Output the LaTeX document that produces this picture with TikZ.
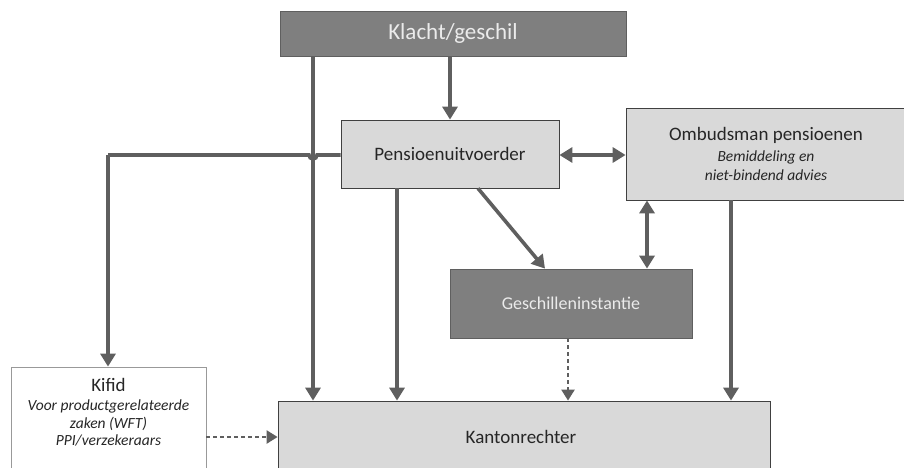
\documentclass[tikz,border=0pt]{standalone}
\usepackage{fontspec}
\setmainfont{Carlito}
\usetikzlibrary{arrows.meta}

\definecolor{darkfill}{HTML}{7F7F7F}
\definecolor{lightfill}{HTML}{D9D9D9}
\definecolor{linegrey}{HTML}{5F5F5F}
\definecolor{edgegrey}{HTML}{404040}

\tikzset{
    darkbox/.style={draw=linegrey, fill=darkfill, text=white!92!black, inner sep=0pt, line width=0.8pt},
    lightbox/.style={draw=edgegrey, fill=lightfill, text=black!85, inner sep=0pt, line width=0.8pt},
    whitebox/.style={draw=black!40, fill=white, inner sep=0pt, line width=0.8pt},
    conn/.style={draw=linegrey, line width=3.6pt, -{Triangle[width=15pt,length=13pt]}},
    dconn/.style={conn, {Triangle[width=15pt,length=13pt]}-{Triangle[width=15pt,length=13pt]}},
    dashconn/.style={draw=linegrey, line width=2.4pt, dash pattern=on 4pt off 3pt, -{Triangle[width=13pt,length=11pt]}}
}

\begin{document}
\begin{tikzpicture}[x=1pt, y=-1pt]
    \useasboundingbox (0,0) rectangle (904,468);
    \clip (0,0) rectangle (904,468);

    % Boxes
    \node[darkbox, minimum width=346pt, minimum height=45pt, font=\fontsize{23}{26}\selectfont]
        (klacht) at (453,33.5) {Klacht/geschil};
    \node[lightbox, minimum width=218pt, minimum height=68pt, font=\fontsize{19}{22}\selectfont]
        (pensioen) at (450,154) {Pensioenuitvoerder};
    \node[lightbox, minimum width=280pt, minimum height=92pt, align=center,
          font=\fontsize{15.5}{19}\selectfont\itshape]
        (ombuds) at (766,154) {{\upshape\fontsize{19}{19}\selectfont Ombudsman pensioenen}\\[2pt]
        Bemiddeling en\\
        niet-bindend advies};
    \node[darkbox, minimum width=242pt, minimum height=69pt, font=\fontsize{18}{22}\selectfont]
        (geschil) at (571,303.5) {Geschilleninstantie};
    \node[lightbox, minimum width=492pt, minimum height=72pt, font=\fontsize{19}{22}\selectfont]
        (kanton) at (524,437) {\hspace*{-6pt}Kantonrechter};
    \node[whitebox, minimum width=195pt, minimum height=115pt]
        (kifid) at (108.5,424.5) {};
    \node[align=center, inner sep=0pt, text=black!85, font=\fontsize{15.5}{17.5}\selectfont\itshape]
        (kifidtxt) at (108.5,412) {{\upshape\fontsize{19}{19}\selectfont Kifid}\\[2pt]
        Voor productgerelateerde\\
        zaken (WFT)\\
        PPI/verzekeraars};

    % Helper coordinates
    \coordinate (lineA) at (313,0);
    \coordinate (lineB) at (397,0);
    \coordinate (lineC) at (647,0);
    \coordinate (lineD) at (731,0);
    \coordinate (lineE) at (568,0);
    \coordinate (kifidx) at (108,0);
    \coordinate (hop) at (317,155);

    % Connectors
    \draw[conn] (klacht.south -| pensioen.north) -- (pensioen.north);
    \draw[conn] (klacht.south -| lineA) -- (kanton.north -| lineA);
    \draw[conn, -] (pensioen.west |- hop) -- (hop) arc (0:180:4) -- (kifidx |- hop);
    \draw[conn] (kifidx |- hop) -- (kifid.north -| kifidx);
    \draw[dconn] (pensioen.east |- hop) -- (ombuds.west |- hop);
    \draw[conn] (pensioen.south -| lineB) -- (kanton.north -| lineB);
    \draw[conn] ([xshift=28pt]pensioen.south) -- ([xshift=-26pt]geschil.north);
    \draw[dconn] (ombuds.south -| lineC) -- (geschil.north -| lineC);
    \draw[conn] (ombuds.south -| lineD) -- (kanton.north -| lineD);
    \draw[dashconn] (geschil.south -| lineE) -- (kanton.north -| lineE);
    \draw[dashconn] (kifid.east |- kanton) -- (kanton.west);
\end{tikzpicture}
\end{document}
